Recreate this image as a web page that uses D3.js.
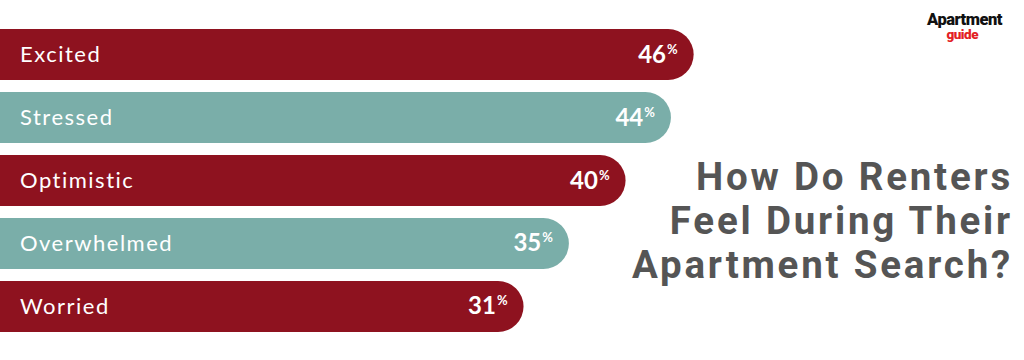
<!DOCTYPE html>
<html><head><meta charset="utf-8">
<script src="https://cdn.jsdelivr.net/npm/d3@7"></script>
<style>html,body{margin:0;padding:0;background:#fff;}svg{display:block;}</style>
</head><body>
<script>
const categories = ["Excited","Stressed","Optimistic","Overwhelmed","Worried"];
const values = [46,44,40,35,31];
const barColors = ["#8E121F","#7AAEA9","#8E121F","#7AAEA9","#8E121F"];
const titleLines = ["How Do Renters","Feel During Their","Apartment Search?"];

const W=1024,H=360;
const svg=d3.select("body").append("svg").attr("width",W).attr("height",H);

const x=d3.scaleLinear().domain([0,50]).range([172,739]);
const y=d3.scaleBand().domain(categories).range([29,332]).paddingInner(0.19).paddingOuter(0);

const g=svg.append("g");
const bh=y.bandwidth();
function barPath(d){
  const x1=x(d.v), r=bh/2, y0=y(d.c);
  return `M0,${y0}H${x1-r}A${r},${r} 0 0 1 ${x1-r},${y0+bh}H0Z`;
}
const data=categories.map((c,i)=>({c,v:values[i],col:barColors[i]}));
g.selectAll("path.bar").data(data).join("path").attr("class","bar")
 .attr("d",barPath).attr("fill",d=>d.col);

g.selectAll("text.cat").data(data).join("text").attr("class","cat")
 .attr("x",20).attr("y",d=>y(d.c)+bh/2+7.5)
 .attr("fill","#fff").attr("font-family","Lato, 'Open Sans', sans-serif")
 .attr("font-size",22).attr("letter-spacing",1.5).text(d=>d.c);

const vt=g.selectAll("text.val").data(data).join("text").attr("class","val")
 .attr("x",d=>x(d.v)-16).attr("y",d=>y(d.c)+bh/2+8)
 .attr("text-anchor","end").attr("fill","#fff")
 .attr("font-family","Lato, 'Open Sans', sans-serif").attr("font-weight",700);
vt.append("tspan").attr("font-size",24).text(d=>d.v);
vt.append("tspan").attr("font-size",13).attr("dy",-9).attr("dx",1).text("%");

const t=svg.append("text").attr("text-anchor","end")
 .attr("font-family","Roboto, sans-serif").attr("font-weight",700)
 .attr("font-size",38.5).attr("letter-spacing",2.8).attr("fill","#555555");
titleLines.forEach((l,i)=>t.append("tspan").attr("x",1013).attr("y",190+i*44).text(l));

const logo=svg.append("g").attr("font-family","Roboto, sans-serif").attr("font-weight",900);
logo.append("text").attr("x",1002).attr("y",25).attr("text-anchor","end")
 .attr("font-size",16.5).attr("letter-spacing",-0.5).attr("fill","#111").text("Apartment");
logo.append("text").attr("x",978).attr("y",39).attr("text-anchor","end")
 .attr("font-size",13.5).attr("letter-spacing",-0.5).attr("fill","#E31E24").text("guide");
</script>
</body></html>
